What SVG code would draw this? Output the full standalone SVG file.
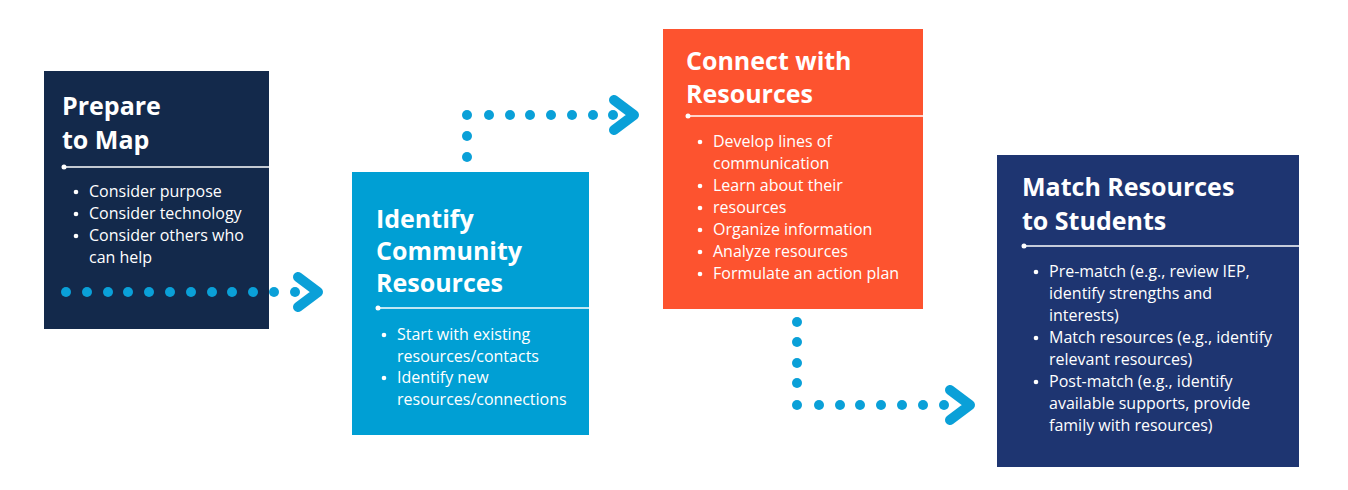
<svg xmlns="http://www.w3.org/2000/svg" width="1348" height="490" viewBox="0 0 1348 490">
<defs>
<style>
.title{font-family:"Open Sans","Liberation Sans",sans-serif;font-weight:700;font-size:25px;fill:#ffffff}
.body{font-family:"Open Sans","Liberation Sans",sans-serif;font-size:16px;fill:#ffffff}
.bul{fill:#ffffff}
.div{stroke:#ffffff;stroke-width:1.5}
.fade{stroke:url(#fadeGrad);stroke-width:1.5}
.dot{fill:#0aa0d8}
.chev{fill:none;stroke:#0aa0d8;stroke-width:10;stroke-linecap:round;stroke-linejoin:round}
</style>
<linearGradient id="fadeGrad" x1="0" y1="0" x2="1" y2="0">
<stop offset="0" stop-color="#dde6ee"/>
<stop offset="1" stop-color="#dde6ee" stop-opacity="0"/>
</linearGradient>
</defs>
<rect width="1348" height="490" fill="#ffffff"/>

<g id="prepare">
<rect x="44" y="71" width="225" height="258" fill="#13294b"/>
<text class="title" x="62" y="115">Prepare</text>
<text class="title" x="62" y="149">to Map</text>
<line class="div" x1="64" y1="167" x2="269" y2="167"/>
<line class="fade" x1="269" y1="167" x2="292" y2="167"/>
<circle class="bul" cx="64" cy="167" r="2.5"/>
<circle class="bul" cx="76" cy="192" r="2.3"/>
<text class="body" x="89" y="197">Consider purpose</text>
<circle class="bul" cx="76" cy="214" r="2.3"/>
<text class="body" x="89" y="219">Consider technology</text>
<circle class="bul" cx="76" cy="236" r="2.3"/>
<text class="body" x="89" y="241">Consider others who</text>
<text class="body" x="89" y="263">can help</text>
</g>

<g id="identify">
<rect x="352" y="172" width="237" height="263" fill="#009fd4"/>
<text class="title" x="376" y="228">Identify</text>
<text class="title" x="376" y="260">Community</text>
<text class="title" x="376" y="292">Resources</text>
<line class="div" x1="378" y1="308" x2="589" y2="308"/>
<line class="fade" x1="589" y1="308" x2="624" y2="308"/>
<circle class="bul" cx="378" cy="308" r="2.5"/>
<circle class="bul" cx="384" cy="335" r="2.3"/>
<text class="body" x="397" y="340">Start with existing</text>
<text class="body" x="397" y="362">resources/contacts</text>
<circle class="bul" cx="384" cy="378" r="2.3"/>
<text class="body" x="397" y="383">Identify new</text>
<text class="body" x="397" y="405">resources/connections</text>
</g>

<g id="connect">
<rect x="663" y="29" width="260" height="280" fill="#fd532f"/>
<text class="title" x="686" y="70">Connect with</text>
<text class="title" x="686" y="103">Resources</text>
<line class="div" x1="688" y1="116" x2="923" y2="116"/>
<line class="fade" x1="923" y1="116" x2="1060" y2="116"/>
<circle class="bul" cx="688" cy="116" r="2.5"/>
<circle class="bul" cx="700" cy="142" r="2.3"/>
<text class="body" x="713" y="147">Develop lines of</text>
<text class="body" x="713" y="169">communication</text>
<circle class="bul" cx="700" cy="186" r="2.3"/>
<text class="body" x="713" y="191">Learn about their</text>
<circle class="bul" cx="700" cy="208" r="2.3"/>
<text class="body" x="713" y="213">resources</text>
<circle class="bul" cx="700" cy="230" r="2.3"/>
<text class="body" x="713" y="235">Organize information</text>
<circle class="bul" cx="700" cy="252" r="2.3"/>
<text class="body" x="713" y="257">Analyze resources</text>
<circle class="bul" cx="700" cy="274" r="2.3"/>
<text class="body" x="713" y="279">Formulate an action plan</text>
</g>

<g id="match">
<rect x="997" y="155" width="302" height="312" fill="#1e3571"/>
<text class="title" x="1022" y="196">Match Resources</text>
<text class="title" x="1022" y="230">to Students</text>
<line class="div" x1="1024" y1="246" x2="1299" y2="246"/>
<line class="fade" x1="1299" y1="246" x2="1348" y2="246"/>
<circle class="bul" cx="1024" cy="246" r="2.5"/>
<circle class="bul" cx="1036" cy="272" r="2.3"/>
<text class="body" x="1049" y="277">Pre-match (e.g., review IEP,</text>
<text class="body" x="1049" y="299">identify strengths and</text>
<text class="body" x="1049" y="321">interests)</text>
<circle class="bul" cx="1036" cy="338" r="2.3"/>
<text class="body" x="1049" y="343">Match resources (e.g., identify</text>
<text class="body" x="1049" y="365">relevant resources)</text>
<circle class="bul" cx="1036" cy="382" r="2.3"/>
<text class="body" x="1049" y="387">Post-match (e.g., identify</text>
<text class="body" x="1049" y="409">available supports, provide</text>
<text class="body" x="1049" y="431">family with resources)</text>
</g>

<g id="connectors">
<g id="c1">
<circle class="dot" cx="66" cy="292" r="5"/>
<circle class="dot" cx="87" cy="292" r="5"/>
<circle class="dot" cx="108" cy="292" r="5"/>
<circle class="dot" cx="128" cy="292" r="5"/>
<circle class="dot" cx="149" cy="292" r="5"/>
<circle class="dot" cx="170" cy="292" r="5"/>
<circle class="dot" cx="191" cy="292" r="5"/>
<circle class="dot" cx="212" cy="292" r="5"/>
<circle class="dot" cx="232" cy="292" r="5"/>
<circle class="dot" cx="253" cy="292" r="5"/>
<circle class="dot" cx="274" cy="292" r="5"/>
<circle class="dot" cx="295" cy="292" r="5"/>
<polyline class="chev" points="298,277 318,292 298,307"/>
</g>
<g id="c2">
<circle class="dot" cx="467" cy="157" r="5"/>
<circle class="dot" cx="467" cy="136" r="5"/>
<circle class="dot" cx="467" cy="115" r="5"/>
<circle class="dot" cx="489" cy="115" r="5"/>
<circle class="dot" cx="510" cy="115" r="5"/>
<circle class="dot" cx="530" cy="115" r="5"/>
<circle class="dot" cx="551" cy="115" r="5"/>
<circle class="dot" cx="572" cy="115" r="5"/>
<circle class="dot" cx="593" cy="115" r="5"/>
<circle class="dot" cx="613" cy="115" r="5"/>
<polyline class="chev" points="614,100 634,115 614,130"/>
</g>
<g id="c3">
<circle class="dot" cx="797" cy="322" r="5"/>
<circle class="dot" cx="797" cy="342" r="5"/>
<circle class="dot" cx="797" cy="363" r="5"/>
<circle class="dot" cx="797" cy="383" r="5"/>
<circle class="dot" cx="797" cy="405" r="5"/>
<circle class="dot" cx="819" cy="405" r="5"/>
<circle class="dot" cx="840" cy="405" r="5"/>
<circle class="dot" cx="860" cy="405" r="5"/>
<circle class="dot" cx="881" cy="405" r="5"/>
<circle class="dot" cx="902" cy="405" r="5"/>
<circle class="dot" cx="923" cy="405" r="5"/>
<circle class="dot" cx="944" cy="405" r="5"/>
<polyline class="chev" points="950,390 970,405 950,420"/>
</g>
</g>
</svg>
